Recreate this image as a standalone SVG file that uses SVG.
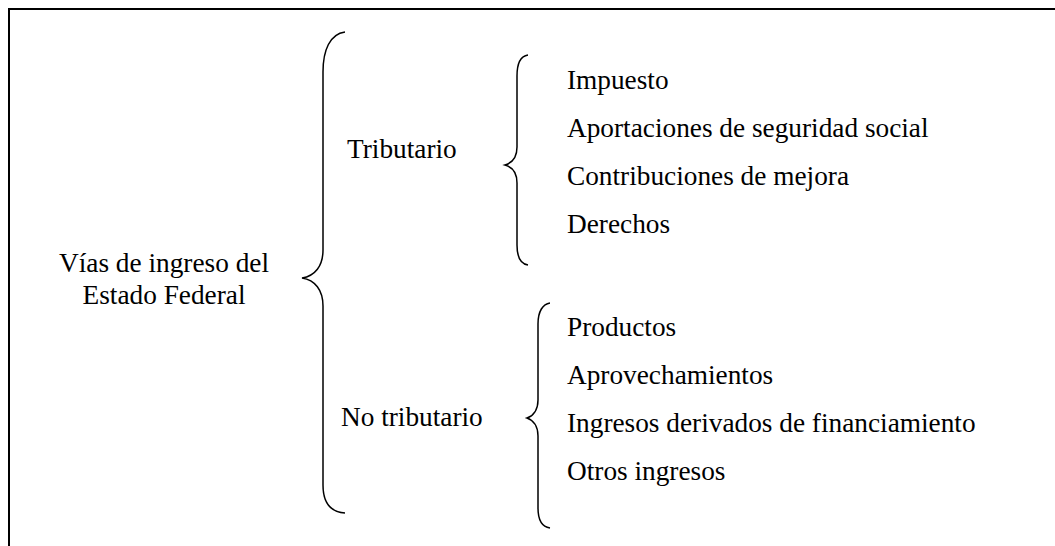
<svg xmlns="http://www.w3.org/2000/svg" width="1055" height="546" viewBox="0 0 1055 546">
<style>
text{font-family:"Liberation Serif","Times New Roman",serif;font-size:27.3px;fill:#000}
.b{fill:none;stroke:#000;stroke-width:1.5}
.frame{fill:none;stroke:#000;stroke-width:2}
</style>
<rect width="1055" height="546" fill="#fff"/>
<path class="frame" d="M9,560 L9,9 L1070,9"/>
<g id="root"><text x="164" y="272" text-anchor="middle">Vías de ingreso del</text><text x="164" y="304" text-anchor="middle">Estado Federal</text></g>
<g id="tributario"><text x="347" y="158">Tributario</text></g>
<g id="notributario"><text x="341" y="426">No tributario</text></g>
<g id="trib-items">
<text x="567" y="89">Impuesto</text>
<text x="567" y="137">Aportaciones de seguridad social</text>
<text x="567" y="185">Contribuciones de mejora</text>
<text x="567" y="233">Derechos</text>
</g>
<g id="notrib-items">
<text x="567" y="336">Productos</text>
<text x="567" y="384">Aprovechamientos</text>
<text x="567" y="432">Ingresos derivados de financiamiento</text>
<text x="567" y="480">Otros ingresos</text>
</g>
<g id="connectors">
<path class="b" d="M345,32 C330,34 323,50 323,72 L323,250 C323,266 315,276 302,278 C315,280 323,290 323,306 L323,485 C323,503 330,512 345,513"/>
<path class="b" d="M528,55 C521,56 517,63 517,76 L517,147 C517,157 512,163 505,165 C512,167 517,173 517,183 L517,245 C517,258 521,264 528,265"/>
<path class="b" d="M550,303 C543,304 538,311 538,324 L538,400 C538,410 533,416 527,418 C533,420 538,426 538,436 L538,508 C538,521 543,527 550,528"/>
</g>
</svg>
